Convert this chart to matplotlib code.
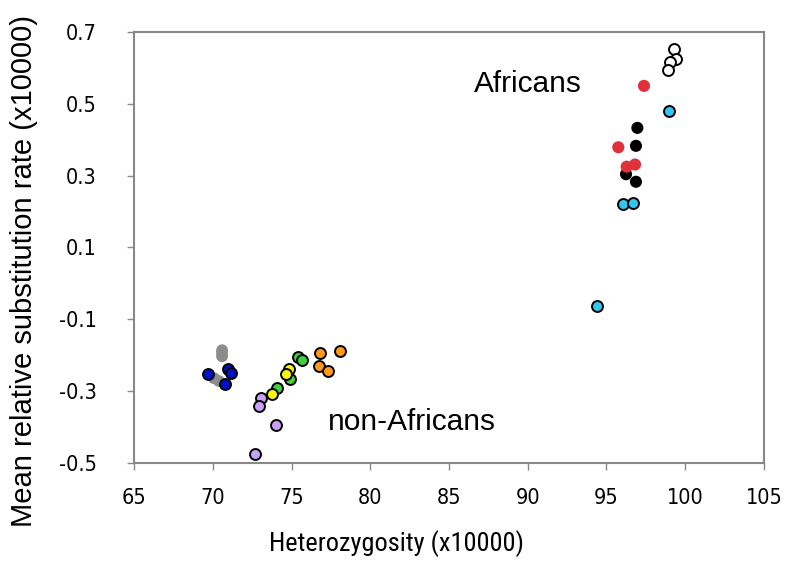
import matplotlib
matplotlib.use("Agg")
import matplotlib.pyplot as plt

plt.rcParams['axes.unicode_minus'] = False

# heterozygosity (x10000) and mean relative substitution rate (x10000) per population group
gray_x = [70.59, 70.59, 70.59, 70.08, 70.40]
gray_y = [-0.186, -0.194, -0.203, -0.264, -0.272]
blue_x = [69.70, 70.97, 71.16, 70.78]
blue_y = [-0.253, -0.239, -0.250, -0.281]
green_x = [75.43, 75.65, 74.90, 74.06]
green_y = [-0.204, -0.212, -0.267, -0.291]
yellow_x = [74.86, 74.65, 73.78]
yellow_y = [-0.239, -0.253, -0.309]
purple_x = [73.06, 72.96, 74.00, 72.68]
purple_y = [-0.320, -0.342, -0.393, -0.474]
orange_x = [76.81, 78.08, 76.77, 77.30]
orange_y = [-0.193, -0.189, -0.230, -0.243]
white_x = [99.30, 99.41, 99.03, 98.92]
white_y = [0.652, 0.624, 0.617, 0.594]
black_x = [96.96, 96.87, 96.24, 96.87]
black_y = [0.433, 0.383, 0.304, 0.283]
red_x = [97.38, 95.75, 96.81, 96.28]
red_y = [0.550, 0.379, 0.331, 0.325]
cyan_x = [98.99, 96.07, 96.66, 94.42]
cyan_y = [0.481, 0.221, 0.223, -0.062]

xticks = [65, 70, 75, 80, 85, 90, 95, 100, 105]
yticks = [-0.5, -0.3, -0.1, 0.1, 0.3, 0.5, 0.7]

narrow_font = ['Roboto Condensed', 'Archivo Narrow', 'DejaVu Sans']
plain_font = ['Liberation Sans', 'DejaVu Sans']

fig = plt.figure(figsize=(7.94, 5.66), dpi=100)
ax = fig.add_axes([0.1688, 0.182, 0.7934, 0.7615])

s = 62
# groups drawn without outline
ax.scatter(gray_x, gray_y, s=s + 10, color='#8c8c8c', edgecolor='none', zorder=2)
ax.scatter(black_x, black_y, s=s + 14, color='black', edgecolor='none', zorder=3)
ax.scatter(red_x, red_y, s=s + 14, color='#e0303a', edgecolor='none', zorder=3)
# outlined groups
groups = [
    (blue_x, blue_y, '#0010c8'),
    (purple_x, purple_y, '#c8a0f8'),
    (green_x, green_y, '#40d040'),
    (yellow_x, yellow_y, '#f8f800'),
    (orange_x, orange_y, '#ff9a18'),
    (white_x, white_y, 'white'),
    (cyan_x, cyan_y, '#30c8f0'),
]
for gx, gy, c in groups:
    ax.scatter(gx, gy, s=s, color=c, edgecolor='black', linewidth=1.4, zorder=4)

ax.set_xlim(65, 105)
ax.set_ylim(-0.5, 0.7)
ax.set_xticks(xticks)
ax.set_yticks(yticks)
ax.set_xticklabels([str(t) for t in xticks], family='DejaVu Sans', fontstretch='condensed', fontsize=15.5)
ax.set_yticklabels(['%.1f' % t for t in yticks], family='DejaVu Sans', fontstretch='condensed', fontsize=15.5)

for sp in ax.spines.values():
    sp.set_color('#888888')
    sp.set_linewidth(1.5)
ax.tick_params(direction='out', length=5, width=1, color='#888888')
ax.tick_params(axis='x', pad=13)
ax.tick_params(axis='y', pad=22)

ax.set_xlabel('Heterozygosity (x10000)', fontsize=19, family=narrow_font)
ax.xaxis.set_label_coords(0.417, -0.155)
ax.set_ylabel('Mean relative substitution rate (x10000)', fontsize=21, family=plain_font)
ax.yaxis.set_label_coords(-0.152, 0.445)

ax.text(86.6, 0.555, 'Africans', fontsize=21.5, family=plain_font, va='center')
ax.text(77.3, -0.386, 'non-Africans', fontsize=21.5, family=plain_font, va='center')

fig.savefig('out.png', dpi=100)
